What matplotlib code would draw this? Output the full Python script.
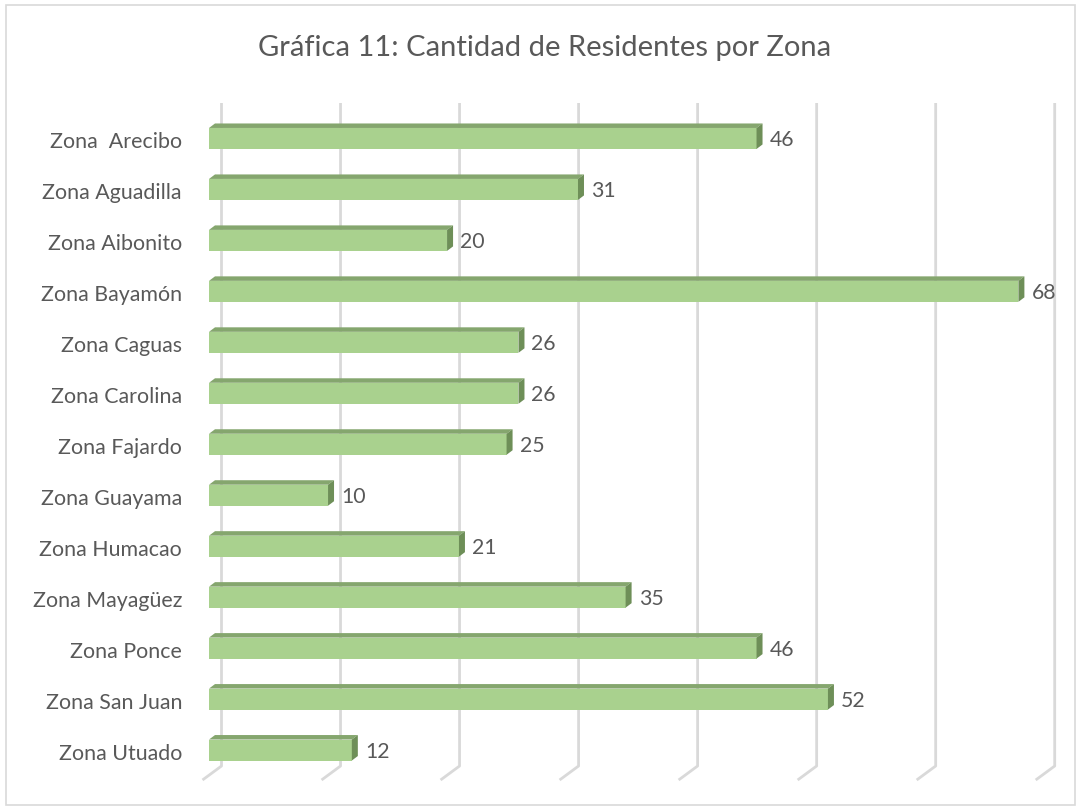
import matplotlib.pyplot as plt
from matplotlib.patches import Polygon, Rectangle

# data
zonas = ["Zona  Arecibo", "Zona Aguadilla", "Zona Aibonito", "Zona Bayamón",
         "Zona Caguas", "Zona Carolina", "Zona Fajardo", "Zona Guayama",
         "Zona Humacao", "Zona Mayagüez", "Zona Ponce", "Zona San Juan",
         "Zona Utuado"]
residentes = [46, 31, 20, 68, 26, 26, 25, 10, 21, 35, 46, 52, 12]
ticks = list(range(0, 80, 10))
titulo = "Gráfica 11: Cantidad de Residentes por Zona"

plt.rcParams['font.family'] = ['Lato', 'DejaVu Sans']
texto = '#595959'
frente = '#A9D18E'
arriba = '#85A66E'
lado = '#6E8F58'
rejilla = '#D9D9D9'

W, H = 1080, 812
fig = plt.figure(figsize=(W / 100, H / 100), dpi=100)

# axes placed in pixels so that depth offsets can be given in pixels
x0_px, x1_px, xmax = 209, 1066, 72
y_top_px, y_bot_px = 88.5, 802.0   # rows -1 .. 13
ax = fig.add_axes([x0_px / W, 1 - y_bot_px / H,
                   (x1_px - x0_px) / W, (y_bot_px - y_top_px) / H])
ax.set_xlim(0, xmax)
ax.set_ylim(13, -1)
ax.axis('off')

ux = (x1_px - x0_px) / xmax
uy = (y_bot_px - y_top_px) / 14


def dx(px):
    return px / ux


def dy(px):
    return px / uy


def fila(py):
    return -1 + (py - y_top_px) / uy


# back wall gridlines with floor segment
for t in ticks:
    bx = t + dx(12.5)
    ax.plot([bx, bx, bx - dx(19)], [fila(104), fila(767), fila(781)],
            color=rejilla, lw=2, solid_capstyle='butt', zorder=1, clip_on=False)

# 3D bars
h = dy(10.5)
px_d, py_d = dx(6), dy(4.5)
for i, v in enumerate(residentes):
    ax.add_patch(Rectangle((0, i - h), v, 2 * h, facecolor=frente,
                           edgecolor='none', zorder=3))
    ax.add_patch(Polygon([(0, i - h), (px_d, i - h - py_d),
                          (v + px_d, i - h - py_d), (v, i - h)],
                         closed=True, facecolor=arriba, edgecolor='none', zorder=3))
    ax.add_patch(Polygon([(v, i - h), (v + px_d, i - h - py_d),
                          (v + px_d, i + h - py_d), (v, i + h)],
                         closed=True, facecolor=lado, edgecolor='none', zorder=3))
    ax.text(v + px_d + dx(7), i + dy(1), str(v), ha='left', va='center',
            fontsize=15.3, color=texto, zorder=4)
    ax.text(-dx(27), i + dy(3), zonas[i], ha='right', va='center',
            fontsize=15.4, color=texto, zorder=4)

fig.text(545 / W, 1 - 48 / H, titulo, ha='center', va='center',
         fontsize=21, color=texto)

# chart border
fig.patches.append(Rectangle((6 / W, 6 / H), 1069 / W, 800 / H,
                             transform=fig.transFigure, fill=False,
                             edgecolor=rejilla, lw=1.2))

fig.savefig('out.png', dpi=100)
